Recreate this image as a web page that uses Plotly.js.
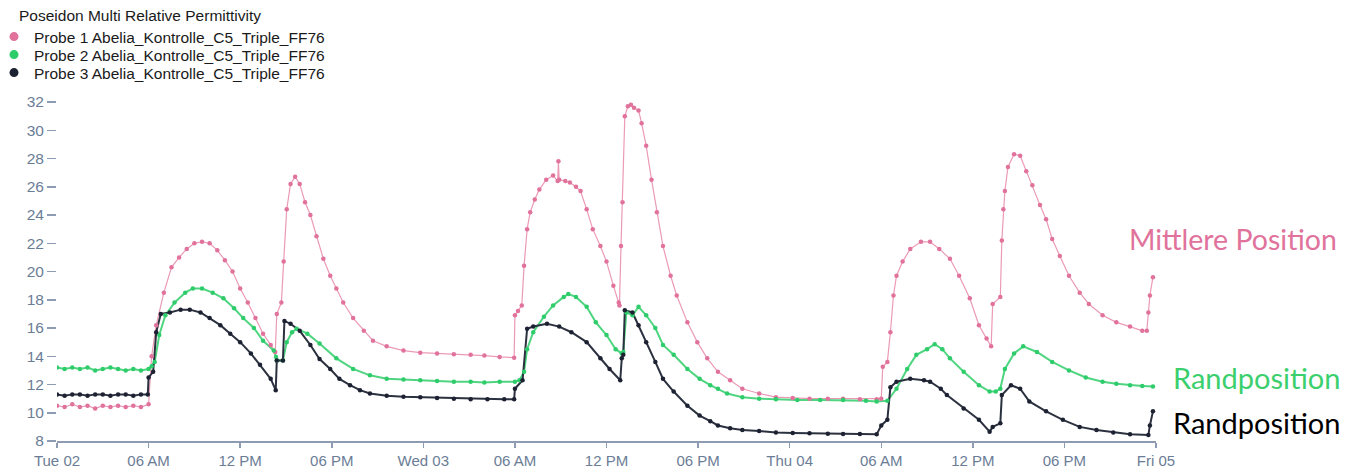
<!DOCTYPE html>
<html>
<head>
<meta charset="utf-8">
<script src="https://cdn.plot.ly/plotly-3.0.1.min.js"></script>
<style>html,body{margin:0;padding:0;background:#fff;}#chart{width:1355px;height:468px;}</style>
</head>
<body>
<div id="chart"></div>
<script>
// Hours after Tue 02 00:00, and relative permittivity values
const probe1Hours = [0,0.5,1,1.5,2,2.5,3,3.5,4,4.5,5,5.5,6.0,6.2,6.5,7.0,7.5,8.0,8.5,9.0,9.5,10.0,10.5,11.0,11.5,12.0,12.5,13.0,13.5,14.0,14.3,14.4,14.7,14.85,15.05,15.3,15.6,15.9,16.25,16.6,17.0,17.45,17.9,18.3,18.75,19.4,20.1,20.7,21.6,22.7,23.8,24.9,26,27.1,28,29,29.95,
30.0,30.2,30.45,30.6,30.8,31.0,31.3,31.6,32.05,32.5,32.8,32.85,32.9,33.3,33.6,34.0,34.3,34.7,35.1,35.6,36.0,36.45,36.8,36.85,36.95,37.05,37.2,37.4,37.6,37.8,38.1,38.3,38.6,38.95,39.3,39.7,40.2,40.6,41.3,41.95,42.6,43.3,44.1,44.9,46.0,47.1,48.2,49.3,50.5,51.5,52.6,53.7,
54.0,54.1,54.4,54.6,54.8,55.0,55.4,55.9,56.6,57.2,57.8,58.5,59.1,59.8,60.4,60.9,61.2,61.3,61.8,61.9,62.0,62.1,62.3,62.7,63.1,63.5,63.9,64.4,64.8,65.2,65.7,66.3,67.0,67.6,68.5,69.4,70.3,71.1,71.4,71.5,71.6,71.8];
const probe1Values = [10.5,10.4,10.6,10.4,10.5,10.3,10.5,10.4,10.5,10.4,10.5,10.4,10.6,14.0,16.2,18.5,20.3,21.0,21.6,22.0,22.1,22.0,21.5,20.8,20.0,18.8,17.8,16.7,15.6,14.8,14.3,17.0,17.8,20.7,24.4,26.2,26.7,26.2,24.9,24.0,22.5,20.9,19.7,18.8,17.8,16.7,15.8,15.1,14.7,14.4,14.25,14.2,14.15,14.1,14.05,13.95,13.9,
16.9,17.2,17.6,20.4,23.0,24.2,25.1,25.8,26.5,26.8,26.4,27.8,26.5,26.4,26.3,26.0,25.7,24.4,23.0,21.8,20.7,19.0,17.8,17.6,21.8,24.9,31.0,31.7,31.8,31.6,31.4,30.5,28.9,26.5,24.2,21.8,19.7,18.3,16.4,15.0,13.85,12.9,12.3,11.7,11.36,11.1,11.05,11.0,11.0,11.0,10.95,10.96,
11.0,13.25,13.6,15.7,18.3,19.7,20.7,21.6,22.1,22.1,21.6,20.9,19.7,18.1,16.2,15.25,14.7,17.7,18.2,22.2,24.4,25.7,27.4,28.3,28.2,27.1,26.1,24.7,23.7,22.3,21.1,19.7,18.5,17.7,16.9,16.4,16.1,15.8,15.8,17.1,18.3,19.6];

const probe2Hours = [0,0.5,1,1.5,2,2.5,3,3.5,4,4.5,5,5.5,6.0,6.2,6.4,6.7,7.1,7.7,8.4,8.9,9.5,10.2,10.9,11.6,12.2,12.9,13.5,14.2,14.35,14.4,14.8,15.05,15.4,15.7,16.4,17.2,18.3,19.4,20.5,21.6,22.7,23.8,24.9,26,27.1,28,29,
30.0,30.3,30.6,30.8,31.2,31.9,32.5,33.2,33.5,34.0,34.7,35.3,36.0,36.6,37.0,37.1,37.3,37.7,38.1,38.6,39.2,39.7,40.4,41.3,42.1,42.8,43.3,43.9,44.9,46,47.1,48.5,50,51.5,53,53.7,
54.4,55.0,55.7,56.3,57.0,57.5,58.0,58.5,59.4,60.4,61.1,61.5,61.8,62.1,62.7,63.3,64.2,65.2,66.3,67.4,68.5,69.4,70.3,71.1,71.8];
const probe2Values = [13.2,13.1,13.2,13.1,13.2,13.0,13.1,13.2,13.1,13.0,13.1,13.0,13.1,13.3,13.6,15.5,16.9,17.8,18.5,18.8,18.8,18.5,18.1,17.4,16.7,16.0,15.1,14.4,13.95,13.7,13.7,15.0,15.7,15.95,15.6,14.9,13.85,13.1,12.65,12.4,12.35,12.3,12.24,12.2,12.2,12.15,12.2,
12.2,12.3,12.9,14.5,15.7,16.8,17.6,18.2,18.4,18.2,17.5,16.4,15.5,14.5,14.2,14.3,17.1,16.9,17.5,16.9,16.0,14.8,14.1,13.1,12.4,11.95,11.7,11.36,11.1,11.0,10.96,10.9,10.9,10.9,10.85,10.8,
10.85,11.7,13.1,14.1,14.5,14.85,14.5,13.85,12.9,11.95,11.5,11.5,11.7,13.1,14.2,14.7,14.3,13.6,13.0,12.5,12.2,12.05,11.95,11.9,11.85];

const probe3Hours = [0,0.5,1,1.5,2,2.5,3,3.5,4,4.5,5,5.5,5.95,6.0,6.3,6.5,6.8,7.4,8.1,8.7,9.4,10.0,10.7,11.35,12.0,12.7,13.3,14.0,14.33,14.4,14.8,14.9,15.3,15.9,16.6,17.2,17.9,18.5,19.2,19.85,20.5,21.6,22.7,23.8,24.9,26,27.1,28.2,29.3,29.95,
30.0,30.5,30.8,31.2,32.1,32.9,33.7,34.7,35.6,36.2,36.9,37.0,37.1,37.2,37.7,38.1,38.6,39.2,39.7,40.4,41.3,42.1,42.8,43.3,44.1,44.9,46,47.1,48.2,49.3,50.5,51.5,52.6,53.7,
54.0,54.4,54.6,55.0,55.9,56.8,57.2,57.9,58.3,59.4,60.4,61.1,61.3,61.8,61.9,62.5,63.1,63.7,64.8,65.9,67.0,68.1,69.2,70.3,71.5,71.6,71.8];
const probe3Values = [11.3,11.2,11.3,11.3,11.2,11.3,11.3,11.2,11.3,11.3,11.2,11.3,11.3,12.5,12.9,15.7,17.0,17.1,17.3,17.3,17.1,16.7,16.2,15.6,15.0,14.2,13.4,12.4,11.6,13.7,13.7,16.5,16.3,15.8,14.8,13.8,13.1,12.4,11.95,11.6,11.36,11.2,11.13,11.1,11.05,11.0,10.96,10.96,10.95,10.95,
11.7,12.3,15.95,16.1,16.3,16.1,15.7,15.0,13.85,13.1,12.3,13.85,14.1,17.25,17.1,16.2,15.0,13.6,12.4,11.5,10.5,9.8,9.4,9.1,8.9,8.78,8.7,8.6,8.57,8.54,8.52,8.5,8.5,8.47,
9.1,9.5,11.8,12.2,12.4,12.3,12.2,11.7,11.25,10.3,9.5,8.66,9.0,9.25,11.25,11.95,11.7,10.8,10.1,9.5,9.0,8.78,8.6,8.47,8.42,9.1,10.1];

const seriesNames = ['Probe 1 Abelia_Kontrolle_C5_Triple_FF76','Probe 2 Abelia_Kontrolle_C5_Triple_FF76','Probe 3 Abelia_Kontrolle_C5_Triple_FF76'];
const legendTitle = 'Poseidon Multi Relative Permittivity';
const tickLabels = ['Tue 02','06 AM','12 PM','06 PM','Wed 03','06 AM','12 PM','06 PM','Thu 04','06 AM','12 PM','06 PM','Fri 05'];
const tickHours = [0,6,12,18,24,30,36,42,48,54,60,66,72];
const sideLabels = ['Mittlere Position','Randposition','Randposition'];
const sideLabelValues = [22.33,12.52,9.34];

const startMs = Date.UTC(2024,6,2,0,0,0);
function toDate(h){
  const d = new Date(startMs + Math.round(h*3600000));
  const p = n => String(n).padStart(2,'0');
  return d.getUTCFullYear()+'-'+p(d.getUTCMonth()+1)+'-'+p(d.getUTCDate())+' '+p(d.getUTCHours())+':'+p(d.getUTCMinutes())+':'+p(d.getUTCSeconds());
}

const markerColors = ['#e0729b','#2ecc6a','#1d2232'];
const lineColors = ['#eb9ab6','#4fd580','#2c3140'];
const lineWidths = [1.2, 2, 2];
const textColors = ['#e0729b','#3ccf6e','#000000'];
const hoursList = [probe1Hours, probe2Hours, probe3Hours];
const valuesList = [probe1Values, probe2Values, probe3Values];
const legendIds = ['legend','legend2','legend3'];

const traces = [];
for (let i=0;i<3;i++){
  const xs = hoursList[i].map(toDate);
  traces.push({type:'scatter', mode:'lines', x:xs, y:valuesList[i], showlegend:false, hoverinfo:'skip',
    line:{color:lineColors[i], width:lineWidths[i]}});
}
for (let i=0;i<3;i++){
  const xs = hoursList[i].map(toDate);
  traces.push({type:'scatter', mode:'markers', x:xs, y:valuesList[i], name:seriesNames[i], showlegend:false,
    marker:{color:markerColors[i], size:4.5}});
}
// legend entries (no data of their own)
for (let i=0;i<3;i++){
  traces.push({type:'scatter', mode:'markers', x:[null], y:[null], name:seriesNames[i], legend:legendIds[i],
    showlegend:true, marker:{color:markerColors[i], size:9}});
}

const axisColor = '#8e9cb3';
const tickFontColor = '#6b7d96';
const font = 'Liberation Sans, Arial, sans-serif';

const annotations = [{
  text: legendTitle, xref:'paper', yref:'paper', x:(17-57)/1099, y:(441-16)/339,
  xanchor:'left', yanchor:'middle', showarrow:false, font:{family:font, size:15.5, color:'#1a1a1a'}
}];
for (let i=0;i<3;i++){
  annotations.push({text: sideLabels[i], xref:'paper', yref:'y',
    x: i===0 ? (1127-57)/1099 : (1171-57)/1099, y: sideLabelValues[i],
    xanchor:'left', yanchor:'middle', showarrow:false,
    font:{family:'Lato, Open Sans, sans-serif', size: i===0 ? 28.5 : 29, color:textColors[i]}});
}

const legendRows = [37,55,73];
function legendAt(row){
  return {xref:'paper', yref:'paper', x:(-6-57)/1099, y:(441-row)/339, xanchor:'left', yanchor:'middle',
    bgcolor:'rgba(0,0,0,0)', borderwidth:0, font:{family:font, size:15.5, color:'#1a1a1a'}};
}

const layout = {
  width:1355, height:468,
  margin:{l:57, r:199, t:102, b:27, autoexpand:false},
  paper_bgcolor:'#ffffff', plot_bgcolor:'#ffffff',
  showlegend:true,
  legend: legendAt(legendRows[0]),
  legend2: legendAt(legendRows[1]),
  legend3: legendAt(legendRows[2]),
  xaxis:{type:'date', range:[toDate(0), toDate(72)], tickmode:'array',
    tickvals: tickHours.map(toDate), ticktext: tickLabels,
    ticks:'outside', ticklen:5, tickwidth:1.5, tickcolor:axisColor,
    showline:true, linecolor:axisColor, linewidth:1.5, showgrid:false, zeroline:false,
    tickfont:{family:font, size:15, color:tickFontColor}},
  yaxis:{range:[8,32], tickmode:'linear', tick0:8, dtick:2,
    ticks:'outside', ticklen:9, tickwidth:1.5, tickcolor:axisColor,
    showline:false, showgrid:false, zeroline:false,
    tickfont:{family:font, size:15.5, color:tickFontColor}},
  annotations: annotations
};

Plotly.newPlot('chart', traces, layout, {displayModeBar:false, staticPlot:true});
</script>
</body>
</html>
